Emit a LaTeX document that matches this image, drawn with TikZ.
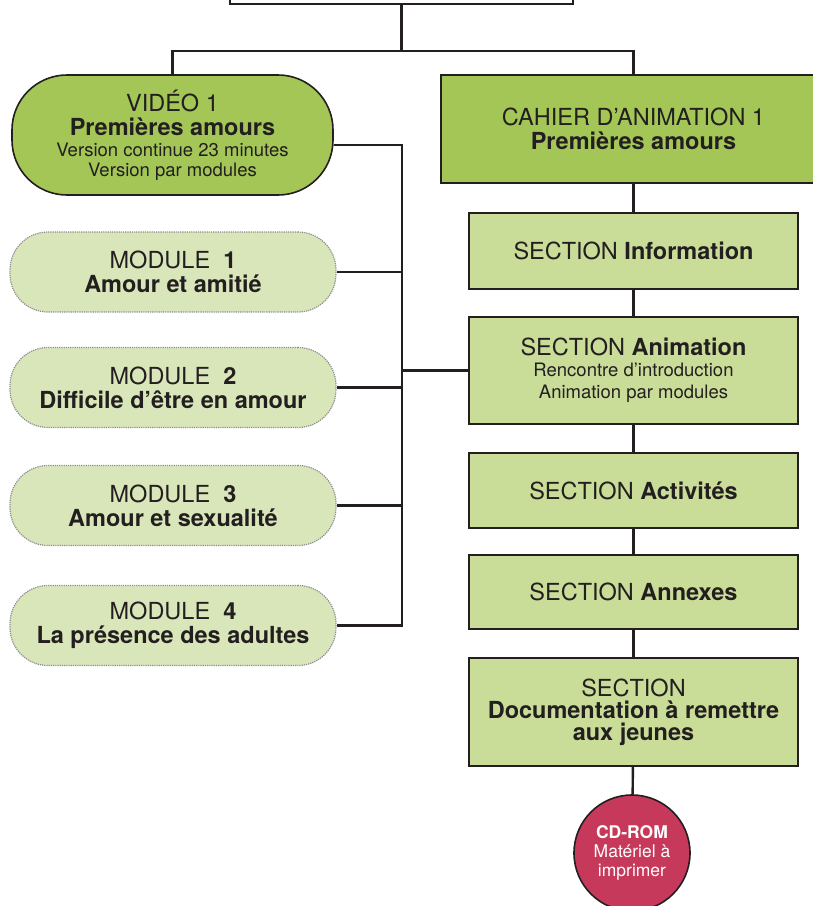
\documentclass[tikz,border=0pt]{standalone}
\usepackage{fontspec}
\setmainfont{TeX Gyre Heros}
\usepackage{tikz}

\definecolor{vidgreen}{RGB}{163,198,87}
\definecolor{secgreen}{RGB}{201,220,152}
\definecolor{modgreen}{RGB}{217,230,185}
\definecolor{cdred}{RGB}{199,57,91}
\definecolor{ink}{RGB}{35,31,32}

\newcommand{\bigtxt}{\fontsize{23.5}{24}\selectfont}
\newcommand{\smalltxt}{\fontsize{18.5}{20}\selectfont}
\newcommand{\cdtxt}{\fontsize{17.5}{19}\selectfont}

\begin{document}
\begin{tikzpicture}[x=1pt,y=-1pt,
    link/.style={line width=2.4pt,draw=ink},
    topbox/.style={draw=ink,line width=2.4pt,fill=white,minimum width=343pt,minimum height=40pt},
    videobox/.style={draw=ink,line width=1.6pt,fill=vidgreen,rounded corners=55pt,
        minimum width=321pt,minimum height=120pt,align=center,text=ink,font=\bigtxt},
    modulebox/.style={draw=black!45,densely dotted,line width=1.2pt,fill=modgreen,rounded corners=38pt,
        minimum width=326pt,minimum height=80pt,align=center,text=ink,font=\bigtxt},
    cahierbox/.style={draw=ink,line width=1.6pt,fill=vidgreen,
        minimum width=385pt,minimum height=108pt,align=center,text=ink,font=\bigtxt},
    sectionbox/.style={draw=ink,line width=1.6pt,fill=secgreen,
        minimum width=329pt,align=center,text=ink,font=\bigtxt},
    cdbox/.style={circle,draw=ink,line width=1.6pt,fill=cdred,minimum size=116pt,
        inner sep=0pt,align=center,text=white,font=\cdtxt}
    ]
    \useasboundingbox (0,0) rectangle (813,906);

    \path
        (401.5,-16) node [topbox] (top) {};

    % left column
    \path
        (172.5,135)  node [videobox]  (video) {VIDÉO 1\\ \textbf{Premières amours}\\[-3pt]
                                               \smalltxt Version continue 23 minutes\\[-4pt] \smalltxt Version par modules}
     ++ (0.5,137)    node [modulebox] (mod1) {MODULE\ \ \textbf{1}\\ \textbf{Amour et amitié}}
     ++ (0,115.5)    node [modulebox] (mod2) {MODULE\ \ \textbf{2}\\ \textbf{Difficile d’être en amour}}
     ++ (0,118)      node [modulebox] (mod3) {MODULE\ \ \textbf{3}\\ \textbf{Amour et sexualité}}
     ++ (0,120)      node [modulebox] (mod4) {MODULE\ \ \textbf{4}\\ \textbf{La présence des adultes}}
     ;

    % right column
    \path
        (633.5,129)  node [cahierbox] (cahier) {CAHIER D'ANIMATION 1\\ \textbf{Premières amours}}
     ++ (0,122)      node [sectionbox,minimum height=76pt]  (info) {SECTION \textbf{Information}}
     ++ (0,119.5)    node [sectionbox,minimum height=107pt] (anim) {SECTION \textbf{Animation}\\[-3pt]
                                               \smalltxt Rencontre d'introduction\\[-2pt] \smalltxt Animation par modules}
     ++ (0,120)      node [sectionbox,minimum height=75pt]  (activ) {SECTION \textbf{Activités}}
     ++ (0,101.5)    node [sectionbox,minimum height=74pt]  (annex) {SECTION \textbf{Annexes}}
     ++ (0,120)      node [sectionbox,minimum height=108pt] (doc) {SECTION\\[-2pt] \textbf{Documentation à remettre}\\[-2pt]
                                               \textbf{aux jeunes}}
     ++ (-1.5,141)   node [cdbox] (cdrom) {\textbf{CD-ROM}\\ Matériel à\\ imprimer}
     ;

    % top split
    \draw [link] (top.south) -- ++(0,46) coordinate (split);
    \draw [link] (video.north) |- (split) -| (cahier.north);

    % video and modules
    \draw [link] ([yshift=-10pt]video.east) -- ++(68,0) coordinate (bus) -- (bus |- mod4.east) -- (mod4.east);
    \foreach \m in {mod1,mod2,mod3}
        \draw [link] (\m.east) -- (\m.east -| bus);
    \draw [link] (anim.west -| bus) -- (anim.west);

    % sections
    \draw [link] (cahier) -- (info);
    \draw [link] (info) -- (anim);
    \draw [link] (anim) -- (activ);
    \draw [link] (activ) -- (annex);
    \draw [link] (annex) -- (doc);
    \draw [link] (doc) -- (cdrom);
\end{tikzpicture}
\end{document}
